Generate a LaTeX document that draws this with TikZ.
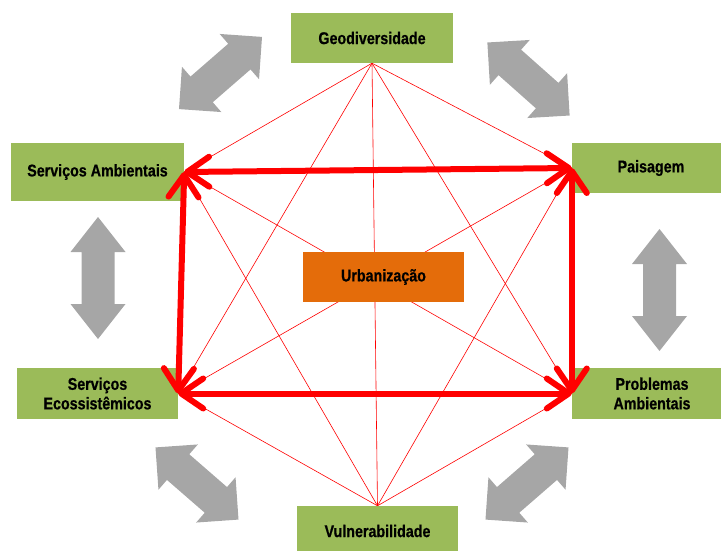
\documentclass[tikz,border=0pt]{standalone}
\usepackage{fontspec}
\setmainfont{Liberation Sans}[FakeStretch=0.84, BoldFeatures={FakeBold=0.6}]
\usetikzlibrary{arrows.meta,backgrounds}
\definecolor{boxgreen}{RGB}{155,187,89}
\definecolor{urborange}{RGB}{228,108,10}
\definecolor{arrgray}{RGB}{166,166,166}
\newcommand{\grayarrow}[7]{%
  \begin{scope}[shift={(#1,#2)},rotate=#3]
    \fill[arrgray] (-#4/2,0) -- (-#4/2+#5,#6) -- (-#4/2+#5,#7) -- (#4/2-#5,#7)
      -- (#4/2-#5,#6) -- (#4/2,0) -- (#4/2-#5,-#6) -- (#4/2-#5,-#7)
      -- (-#4/2+#5,-#7) -- (-#4/2+#5,-#6) -- cycle;
  \end{scope}}
\tikzset{
  box/.style={fill=boxgreen, text=black, align=center, inner sep=0pt,
    font=\bfseries\fontsize{17}{19.5}\selectfont},
  urbbox/.style={box, fill=urborange},
  thinline/.style={draw=red, line width=0.6pt},
  bigarrow/.style={draw=red, line width=6pt,
    >={Straight Barb[length=22pt,width=30pt,round]}, <->}
}
\begin{document}
\begin{tikzpicture}[x=1pt,y=-1pt]
\useasboundingbox (0,0) rectangle (721,551);
% gray double arrows
\grayarrow{220.5}{73}{41}{110}{30}{30}{17}
\grayarrow{528.5}{79}{-41.6}{110}{30}{30}{17}
\grayarrow{197}{483.5}{-41}{110}{30}{30}{17}
\grayarrow{527}{483.5}{41}{110}{30}{30}{17}
\grayarrow{98}{278}{90}{122}{35}{27.5}{16.5}
\grayarrow{659.5}{290}{90}{122}{35}{27.5}{16.5}
% nodes
\node[box, minimum width=162pt, minimum height=50pt] (geo) at (372,38) {Geodiversidade};
\node[box, minimum width=173pt, minimum height=58pt] (sa) at (97.5,172) {Serviços Ambientais};
\node[box, minimum width=158pt, minimum height=50pt] (pai) at (651,168) {Paisagem};
\node[box, minimum width=161pt, minimum height=51pt] (se) at (97.5,393.5) {Serviços\\Ecossistêmicos};
\node[box, minimum width=160pt, minimum height=51pt] (pa) at (652,393.5) {Problemas\\Ambientais};
\node[box, minimum width=161pt, minimum height=50pt] (vul) at (377.5,531) {Vulnerabilidade};
\node[urbbox, minimum width=161pt, minimum height=50pt] (urb) at (383.5,277) {Urbanização};
% thin connectors
\begin{scope}[on background layer]
\draw[thinline] (geo.south) -- (sa.east);
\draw[thinline] (geo.south) -- (pai.west);
\draw[thinline] (geo.south) -- (se.east);
\draw[thinline] (geo.south) -- (pa.west);
\draw[thinline] (geo.south) -- (vul.north);
\draw[thinline] (sa.east) -- (pa.west);
\draw[thinline] (sa.east) -- (vul.north);
\draw[thinline] (pai.west) -- (se.east);
\draw[thinline] (pai.west) -- (vul.north);
\draw[thinline] (se.east) -- (vul.north);
\draw[thinline] (pa.west) -- (vul.north);
\end{scope}
% thick red double arrows
\draw[bigarrow] (sa.east) -- (pai.west);
\draw[bigarrow] (se.east) -- (pa.west);
\draw[bigarrow] (sa.east) -- (se.east);
\draw[bigarrow] (pai.west) -- (pa.west);
\end{tikzpicture}
\end{document}
